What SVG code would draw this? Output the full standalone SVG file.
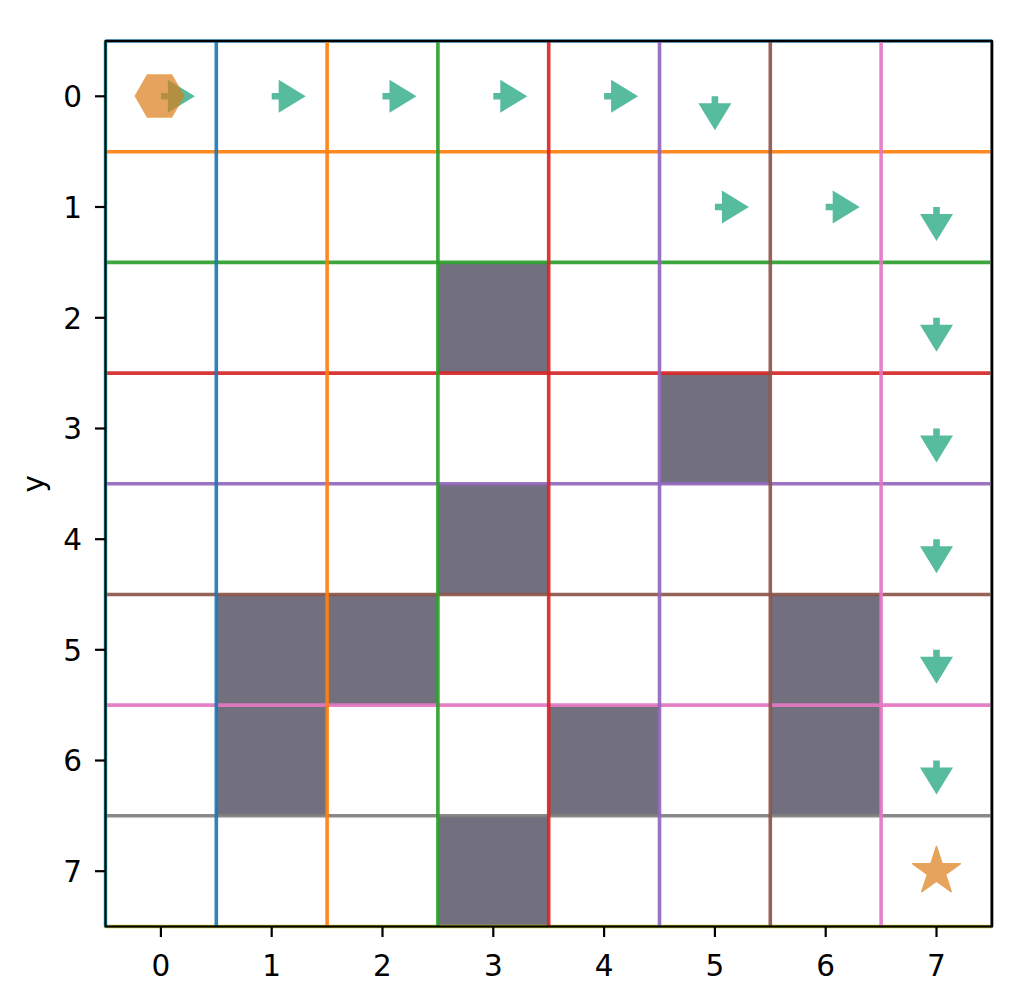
<svg xmlns="http://www.w3.org/2000/svg" xmlns:xlink="http://www.w3.org/1999/xlink" width="1022" height="986" viewBox="0 0 1022 986">
<style>
.obs{fill:#726f7e}
.gl{stroke-width:3.6;opacity:0.92;fill:none}
.arr{fill:#56bc9d}
.tick{stroke:#000;stroke-width:2.2}
.lbl{font-family:"DejaVu Sans",sans-serif;font-size:29.5px;fill:#000}
</style>
<defs>
<path id="arrow" d="M0,-3.3 L7,-3.3 L7,-16.5 L34,0 L7,16.5 L7,3.3 L0,3.3 Z"/>
</defs>
<rect width="1022" height="986" fill="#fff"/>
<g id="obstacles">
<rect class="obs" x="437.9" y="262.4" width="110.8" height="110.7"/>
<rect class="obs" x="659.5" y="373.1" width="110.8" height="110.7"/>
<rect class="obs" x="437.9" y="483.8" width="110.8" height="110.7"/>
<rect class="obs" x="216.3" y="594.5" width="110.8" height="110.6"/>
<rect class="obs" x="327.1" y="594.5" width="110.8" height="110.6"/>
<rect class="obs" x="770.3" y="594.5" width="110.8" height="110.6"/>
<rect class="obs" x="216.3" y="705.1" width="110.8" height="110.7"/>
<rect class="obs" x="548.7" y="705.1" width="110.8" height="110.7"/>
<rect class="obs" x="770.3" y="705.1" width="110.8" height="110.7"/>
<rect class="obs" x="437.9" y="815.8" width="110.8" height="110.7"/>
</g>
<g id="gridlines">
<line class="gl" x1="105.5" x2="991.9" y1="41" y2="41" stroke="#1f77b4"/>
<line class="gl" x1="105.5" x2="991.9" y1="151.7" y2="151.7" stroke="#ff7f0e"/>
<line class="gl" x1="105.5" x2="991.9" y1="262.4" y2="262.4" stroke="#2ca02c"/>
<line class="gl" x1="105.5" x2="991.9" y1="373.1" y2="373.1" stroke="#d62728"/>
<line class="gl" x1="105.5" x2="991.9" y1="483.8" y2="483.8" stroke="#9467bd"/>
<line class="gl" x1="105.5" x2="991.9" y1="594.5" y2="594.5" stroke="#8c564b"/>
<line class="gl" x1="105.5" x2="991.9" y1="705.1" y2="705.1" stroke="#e377c2"/>
<line class="gl" x1="105.5" x2="991.9" y1="815.8" y2="815.8" stroke="#7f7f7f"/>
<line class="gl" x1="105.5" x2="991.9" y1="926.5" y2="926.5" stroke="#bcbd22"/>
<line class="gl" y1="41" y2="926.5" x1="105.5" x2="105.5" stroke="#17becf"/>
<line class="gl" y1="41" y2="926.5" x1="216.3" x2="216.3" stroke="#1f77b4"/>
<line class="gl" y1="41" y2="926.5" x1="327.1" x2="327.1" stroke="#ff7f0e"/>
<line class="gl" y1="41" y2="926.5" x1="437.9" x2="437.9" stroke="#2ca02c"/>
<line class="gl" y1="41" y2="926.5" x1="548.7" x2="548.7" stroke="#d62728"/>
<line class="gl" y1="41" y2="926.5" x1="659.5" x2="659.5" stroke="#9467bd"/>
<line class="gl" y1="41" y2="926.5" x1="770.3" x2="770.3" stroke="#8c564b"/>
<line class="gl" y1="41" y2="926.5" x1="881.1" x2="881.1" stroke="#e377c2"/>
<line class="gl" y1="41" y2="926.5" x1="991.9" x2="991.9" stroke="#7f7f7f"/>
</g>
<g id="arrows" class="arr">
<use xlink:href="#arrow" href="#arrow" transform="translate(160.9,96.3)"/>
<use xlink:href="#arrow" href="#arrow" transform="translate(271.7,96.3)"/>
<use xlink:href="#arrow" href="#arrow" transform="translate(382.5,96.3)"/>
<use xlink:href="#arrow" href="#arrow" transform="translate(493.3,96.3)"/>
<use xlink:href="#arrow" href="#arrow" transform="translate(604.1,96.3)"/>
<use xlink:href="#arrow" href="#arrow" transform="translate(714.9,96.3) rotate(90)"/>
<use xlink:href="#arrow" href="#arrow" transform="translate(714.9,207)"/>
<use xlink:href="#arrow" href="#arrow" transform="translate(825.7,207)"/>
<use xlink:href="#arrow" href="#arrow" transform="translate(936.5,207) rotate(90)"/>
<use xlink:href="#arrow" href="#arrow" transform="translate(936.5,317.8) rotate(90)"/>
<use xlink:href="#arrow" href="#arrow" transform="translate(936.5,428.5) rotate(90)"/>
<use xlink:href="#arrow" href="#arrow" transform="translate(936.5,539.2) rotate(90)"/>
<use xlink:href="#arrow" href="#arrow" transform="translate(936.5,649.8) rotate(90)"/>
<use xlink:href="#arrow" href="#arrow" transform="translate(936.5,760.5) rotate(90)"/>
</g>
<g id="start">
<polygon transform="translate(159.5,96)" points="-25,0 -12.5,-21.65 12.5,-21.65 25,0 12.5,21.65 -12.5,21.65" fill="#db7c19" opacity="0.7"/>
</g>
<g id="goal">
<polygon transform="translate(936.5,871.5)" points="0,-25 5.61,-7.73 23.78,-7.73 9.08,2.95 14.69,20.23 0,9.55 -14.69,20.23 -9.08,2.95 -23.78,-7.73 -5.61,-7.73" fill="#e6a35c" stroke="#e6a35c" stroke-width="1.5" stroke-linejoin="round"/>
</g>
<g id="axes">
<rect x="105.5" y="41" width="886.4" height="885.5" fill="none" stroke="#000" stroke-width="2.2"/>
<g class="tick">
<line x1="95" x2="105.5" y1="96.3" y2="96.3"/>
<line x1="95" x2="105.5" y1="207" y2="207"/>
<line x1="95" x2="105.5" y1="317.8" y2="317.8"/>
<line x1="95" x2="105.5" y1="428.5" y2="428.5"/>
<line x1="95" x2="105.5" y1="539.2" y2="539.2"/>
<line x1="95" x2="105.5" y1="649.8" y2="649.8"/>
<line x1="95" x2="105.5" y1="760.5" y2="760.5"/>
<line x1="95" x2="105.5" y1="871.2" y2="871.2"/>
<line y1="926.5" y2="937" x1="160.9" x2="160.9"/>
<line y1="926.5" y2="937" x1="271.7" x2="271.7"/>
<line y1="926.5" y2="937" x1="382.5" x2="382.5"/>
<line y1="926.5" y2="937" x1="493.3" x2="493.3"/>
<line y1="926.5" y2="937" x1="604.1" x2="604.1"/>
<line y1="926.5" y2="937" x1="714.9" x2="714.9"/>
<line y1="926.5" y2="937" x1="825.7" x2="825.7"/>
<line y1="926.5" y2="937" x1="936.5" x2="936.5"/>
</g>
<g class="lbl" text-anchor="end">
<text x="82" y="107">0</text>
<text x="82" y="217.7">1</text>
<text x="82" y="328.5">2</text>
<text x="82" y="439.2">3</text>
<text x="82" y="549.9">4</text>
<text x="82" y="660.5">5</text>
<text x="82" y="771.2">6</text>
<text x="82" y="881.9">7</text>
</g>
<g class="lbl" text-anchor="middle">
<text x="160.9" y="976">0</text>
<text x="271.7" y="976">1</text>
<text x="382.5" y="976">2</text>
<text x="493.3" y="976">3</text>
<text x="604.1" y="976">4</text>
<text x="714.9" y="976">5</text>
<text x="825.7" y="976">6</text>
<text x="936.5" y="976">7</text>
</g>
<text class="lbl" text-anchor="middle" transform="translate(44,483.8) rotate(-90)">y</text>
</g>
</svg>
